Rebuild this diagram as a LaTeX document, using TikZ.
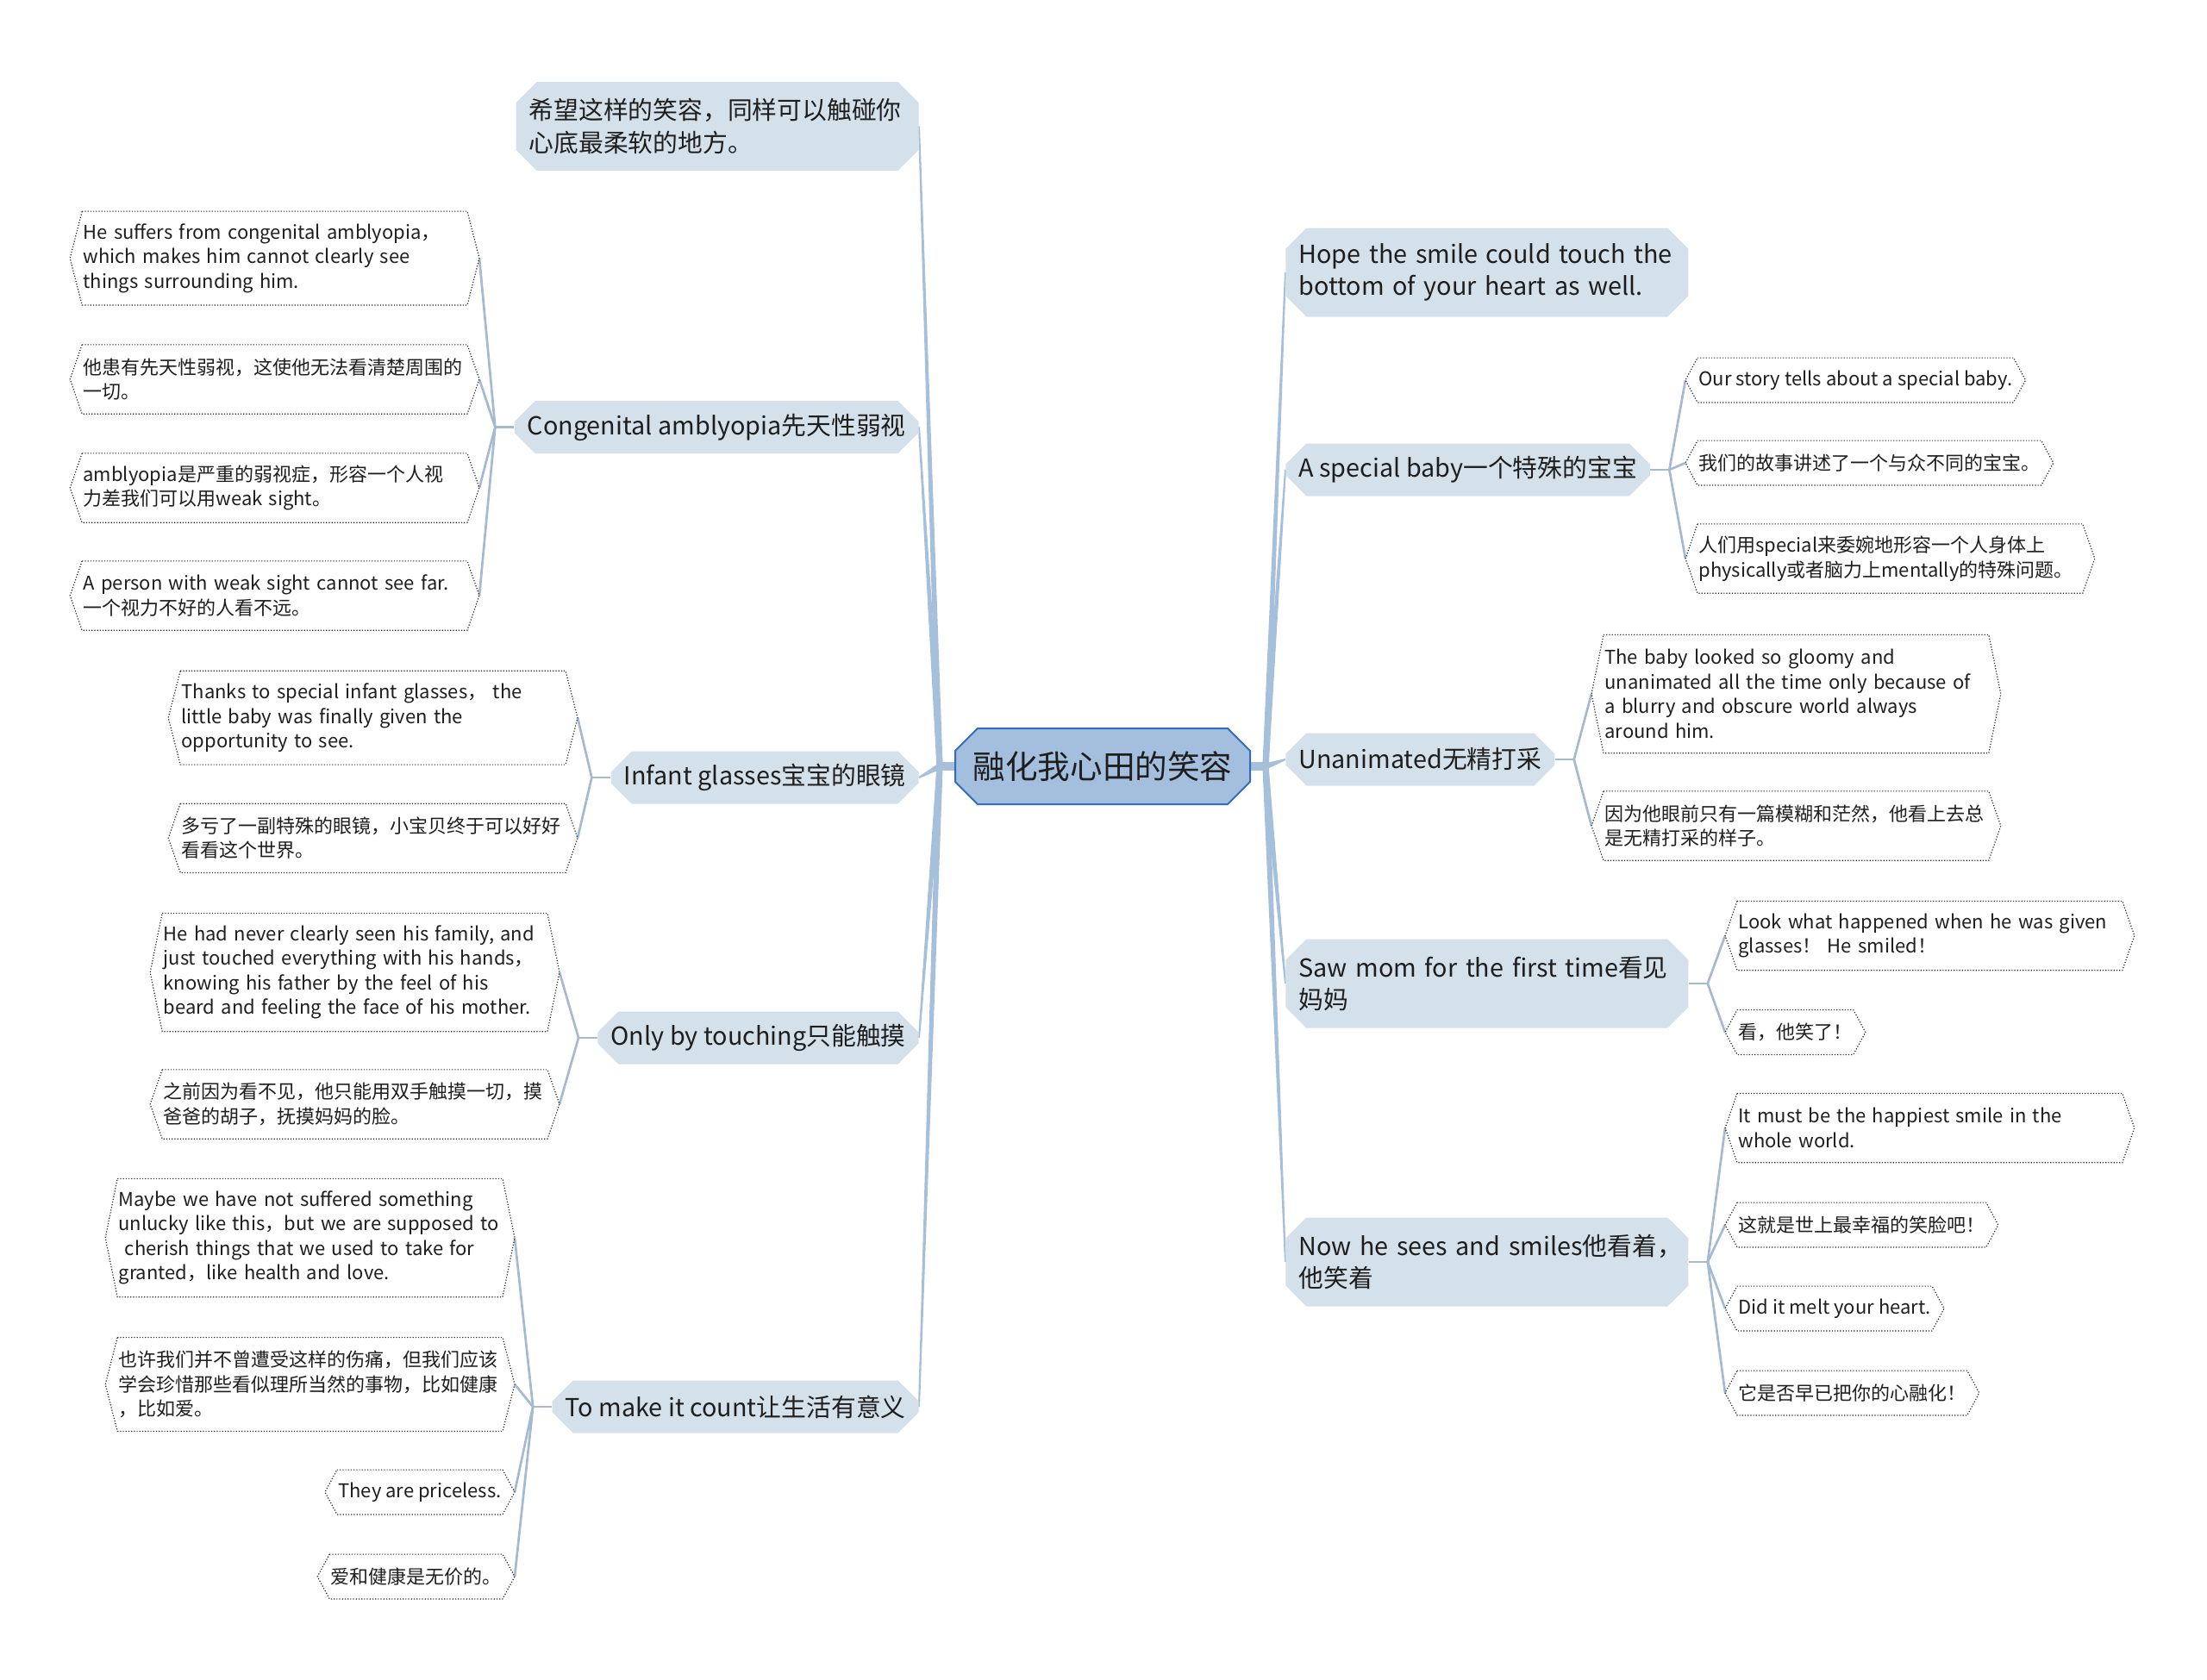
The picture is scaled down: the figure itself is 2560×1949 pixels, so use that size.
\documentclass[tikz,border=0pt]{standalone}
\usepackage{fontspec}
\setmainfont{Noto Sans CJK SC}
\usetikzlibrary{shapes.misc,calc,backgrounds}

\definecolor{rootfill}{HTML}{A3BFDD}
\definecolor{rootline}{HTML}{2F6EBF}
\definecolor{topicfill}{HTML}{D5E1EA}
\definecolor{limbcol}{HTML}{A6BFDA}
\definecolor{twigcol}{HTML}{A3BAD2}
\definecolor{inkcol}{HTML}{1E1E1E}

% tapered link from the hub to a topic
\newcommand\limb[2]{\fill[limbcol] ($(#1)!1.8pt!90:(#2)$) -- ($(#2)!0.5pt!-90:(#1)$)
  -- ($(#2)!0.5pt!90:(#1)$) -- ($(#1)!1.8pt!-90:(#2)$) -- cycle;}

\begin{document}
\begin{tikzpicture}[
  x=0.5pt, y=-0.5pt,
  root/.style={chamfered rectangle,chamfered rectangle xsep=6.5pt,chamfered rectangle ysep=6.5pt,
    draw=rootline,fill=rootfill,line width=1pt,minimum width=171pt,minimum height=44pt,
    font=\fontsize{18.8}{22}\selectfont,text=inkcol},
  topic/.style={chamfered rectangle,chamfered rectangle xsep=6pt,chamfered rectangle ysep=6pt,
    fill=topicfill,inner xsep=1.5pt,inner ysep=0pt,minimum height=30.5pt,align=left,
    font=\fontsize{14.4}{18.8}\selectfont,text=inkcol},
  wide/.style={text width=218.5pt,minimum height=51.5pt},
  leaf/.style={inner xsep=0.5pt,inner ysep=0pt,align=left,
    font=\fontsize{11}{14.25}\selectfont,text=inkcol},
  full/.style={text width=222pt},
  nl/.style={minimum height={(11.25+14.25*#1)*1pt}},
  stem/.style={draw=limbcol,line width=5pt},
  twig/.style={draw=twigcol,line width=1.35pt},
  rim/.style={draw=black!85,densely dotted,line width=0.6pt}
]
  \useasboundingbox (0,0) rectangle (2560,1949);

  \node[root] (c) at (1279,889) {融化我心田的笑容};
  \coordinate (hubL) at (1090,889);
  \coordinate (hubR) at (1468,889);

  % left topics
  \node[topic,wide,anchor=east] (t1) at (1066,146.5) {希望这样的笑容，同样可以触碰你\\心底最柔软的地方。};
  \node[topic,anchor=east] (t2) at (1066,495.5) {Congenital amblyopia先天性弱视};
  \node[topic,anchor=east] (t3) at (1066,902) {Infant glasses宝宝的眼镜};
  \node[topic,anchor=east] (t4) at (1066,1204) {Only by touching只能触摸};
  \node[topic,anchor=east] (t5) at (1066,1632) {To make it count让生活有意义};

  % right topics
  \node[topic,wide,anchor=west] (t6) at (1491,316) {Hope the smile could touch the\\bottom of your heart as well.};
  \node[topic,anchor=west] (t7) at (1491,545) {A special baby一个特殊的宝宝};
  \node[topic,anchor=west] (t8) at (1491,881) {Unanimated无精打采};
  \node[topic,wide,anchor=west] (t9) at (1491,1141) {Saw mom for the first time看见\\妈妈};
  \node[topic,wide,anchor=west] (t10) at (1491,1464) {\mbox{Now he sees and smiles他看着，}\\他笑着};

  % left leaves
  \node[leaf,full,nl=3,anchor=east] (t2a) at (542,299.5) {He suffers from congenital amblyopia，\\which makes him cannot clearly see\\things surrounding him.};
  \node[leaf,full,nl=2,anchor=east] (t2b) at (542,440) {他患有先天性弱视，这使他无法看清楚周围的\\一切。};
  \node[leaf,full,nl=2,anchor=east] (t2c) at (542,566) {amblyopia是严重的弱视症，形容一个人视\\力差我们可以用weak sight。};
  \node[leaf,full,nl=2,anchor=east] (t2d) at (542,691) {A person with weak sight cannot see far.\\一个视力不好的人看不远。};
  \node[leaf,full,nl=3,anchor=east] (t3a) at (656,832.7) {Thanks to special infant glasses， the\\little baby was finally given the\\opportunity to see.};
  \node[leaf,full,nl=2,anchor=east] (t3b) at (656,972.3) {多亏了一副特殊的眼镜，小宝贝终于可以好好\\看看这个世界。};
  \node[leaf,full,nl=4,anchor=east] (t4a) at (635,1128) {He had never clearly seen his family, and\\just touched everything with his hands，\\knowing his father by the feel of his\\beard and feeling the face of his mother.};
  \node[leaf,full,nl=2,anchor=east] (t4b) at (635,1281) {之前因为看不见，他只能用双手触摸一切，摸\\爸爸的胡子，抚摸妈妈的脸。};
  \node[leaf,full,nl=4,anchor=east] (t5a) at (583,1436) {Maybe we have not suffered something\\unlucky like this，but we are supposed to\\\ cherish things that we used to take for\\granted，like health and love.};
  \node[leaf,full,nl=3,anchor=east] (t5b) at (583,1606) {也许我们并不曾遭受这样的伤痛，但我们应该\\学会珍惜那些看似理所当然的事物，比如健康\\，比如爱。};
  \node[leaf,nl=1,anchor=east] (t5c) at (583,1731) {They are priceless.};
  \node[leaf,nl=1,anchor=east] (t5d) at (583,1829) {爱和健康是无价的。};

  % right leaves
  \node[leaf,nl=1,anchor=west] (t7a) at (1969,441) {Our story tells about a special baby.};
  \node[leaf,nl=1,anchor=west] (t7b) at (1969,537) {我们的故事讲述了一个与众不同的宝宝。};
  \node[leaf,full,nl=2,anchor=west] (t7c) at (1969,648) {人们用special来委婉地形容一个人身体上\\physically或者脑力上mentally的特殊问题。};
  \node[leaf,full,nl=4,anchor=west] (t8a) at (1860,805) {The baby looked so gloomy and\\unanimated all the time only because of\\a blurry and obscure world always\\around him.};
  \node[leaf,full,nl=2,anchor=west] (t8b) at (1860,958) {因为他眼前只有一篇模糊和茫然，他看上去总\\是无精打采的样子。};
  \node[leaf,full,nl=2,anchor=west] (t9a) at (2015,1085.5) {Look what happened when he was given\\glasses！ He smiled！};
  \node[leaf,nl=1,anchor=west] (t9b) at (2015,1197.5) {看，他笑了！};
  \node[leaf,full,nl=2,anchor=west] (t10a) at (2015,1308.6) {It must be the happiest smile in the\\whole world.};
  \node[leaf,nl=1,anchor=west] (t10b) at (2015,1421) {这就是世上最幸福的笑脸吧！};
  \node[leaf,nl=1,anchor=west] (t10c) at (2015,1518) {Did it melt your heart.};
  \node[leaf,nl=1,anchor=west] (t10d) at (2015,1616) {它是否早已把你的心融化！};

  % leaf outlines
  \foreach \n in {t2a,t2b,t2c,t2d,t3a,t3b,t4a,t4b,t5a,t5b,t5c,t5d,
                  t7a,t7b,t7c,t8a,t8b,t9a,t9b,t10a,t10b,t10c,t10d}
    \draw[rim] (\n.north west) -- (\n.north east) -- ([xshift=7pt]\n.east)
      -- (\n.south east) -- (\n.south west) -- ([xshift=-7pt]\n.west) -- cycle;

  \begin{scope}[on background layer]
    \draw[stem] (c.west) -- (hubL);
    \draw[stem] (c.east) -- (hubR);
    \foreach \t in {t1,t2,t3,t4,t5} { \limb{hubL}{\t.east} }
    \foreach \t in {t6,t7,t8,t9,t10} { \limb{hubR}{\t.west} }

    % forks on the left
    \foreach \t/\kids in {t2/{t2a,t2b,t2c,t2d},t3/{t3a,t3b},t4/{t4a,t4b},t5/{t5a,t5b,t5c,t5d}} {
      \coordinate (f) at ($(\t.west)+(-22,0)$);
      \draw[twig] (\t.west) -- (f);
      \foreach \k in \kids \draw[twig] (f) -- ([xshift=7pt]\k.east);
    }
    % forks on the right
    \foreach \t/\kids in {t7/{t7a,t7b,t7c},t8/{t8a,t8b},t9/{t9a,t9b},t10/{t10a,t10b,t10c,t10d}} {
      \coordinate (f) at ($(\t.east)+(22,0)$);
      \draw[twig] (\t.east) -- (f);
      \foreach \k in \kids \draw[twig] (f) -- ([xshift=-7pt]\k.west);
    }
  \end{scope}
\end{tikzpicture}
\end{document}
